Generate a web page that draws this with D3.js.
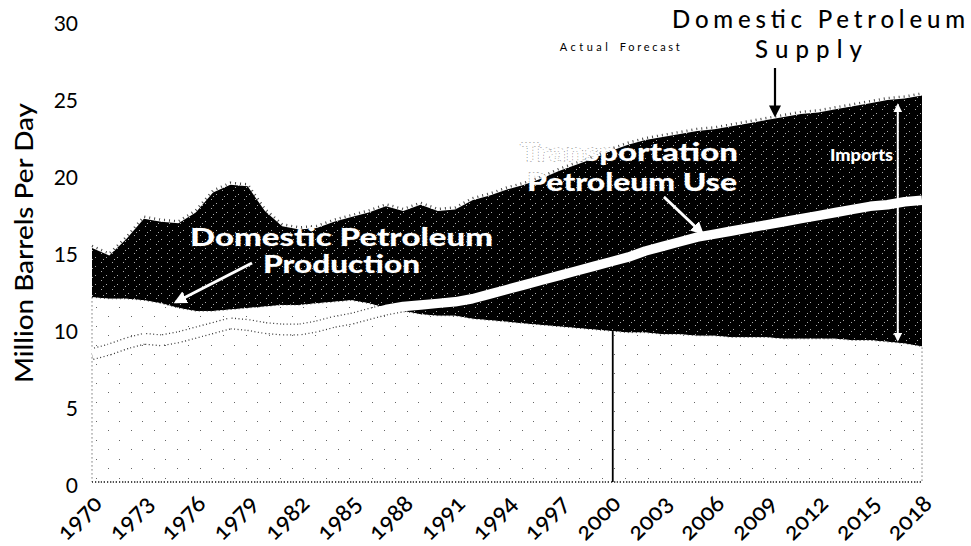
<!DOCTYPE html>
<html><head><meta charset="utf-8">
<script src="https://cdn.jsdelivr.net/npm/d3@7"></script>
<style>
html,body{margin:0;padding:0;background:#fff;}
svg{display:block;}
text{font-family:Lato,"Open Sans",sans-serif;}
</style></head><body>
<svg id="chart" width="971" height="546"></svg>
<script>
// ---- data (million barrels per day) ----
const years = [1970,1971,1972,1973,1974,1975,1976,1977,1978,1979,
  1980,1981,1982,1983,1984,1985,1986,1987,1988,1989,
  1990,1991,1992,1993,1994,1995,1996,1997,1998,1999,
  2000,2001,2002,2003,2004,2005,2006,2007,2008,2009,
  2010,2011,2012,2013,2014,2015,2016,2017,2018];
const totalSupply = [15.2,14.7,15.8,17.1,16.9,16.8,17.5,18.8,19.3,19.2,
  17.6,16.6,16.4,16.5,16.9,17.2,17.5,17.9,17.6,18.0,
  17.6,17.7,18.3,18.6,19.0,19.3,19.7,20.2,20.6,21.0,
  21.5,21.9,22.2,22.4,22.6,22.8,22.9,23.1,23.3,23.5,
  23.7,23.9,24.0,24.2,24.4,24.6,24.8,24.9,25.1];
const domesticProduction = [12.0,11.9,11.9,11.8,11.6,11.3,11.1,11.1,11.2,11.3,
  11.4,11.5,11.5,11.6,11.7,11.8,11.6,11.3,11.1,10.9,
  10.8,10.8,10.6,10.5,10.4,10.3,10.2,10.1,10.0,9.9,
  9.8,9.7,9.7,9.6,9.6,9.5,9.5,9.4,9.4,9.4,
  9.3,9.3,9.3,9.3,9.2,9.2,9.1,9.0,8.8];
const transportationUse = [8.3,8.6,9.0,9.3,9.2,9.4,9.7,10.0,10.3,10.2,
  10.0,9.9,9.9,10.1,10.4,10.6,10.9,11.2,11.4,11.5,
  11.6,11.7,11.9,12.2,12.5,12.8,13.1,13.4,13.7,14.0,
  14.3,14.6,15.0,15.3,15.6,15.9,16.1,16.3,16.5,16.7,
  16.9,17.1,17.3,17.5,17.7,17.9,18.0,18.2,18.3];
const yTickValues = [0,5,10,15,20,25,30];
const xTickYears = [1970,1973,1976,1979,1982,1985,1988,1991,1994,1997,2000,2003,2006,2009,2012,2015,2018];
const forecastYear = 2000;
const importsArrowYear = 2016.6;

// ---- chart ----
const svg = d3.select('#chart');
const x = d3.scaleLinear().domain([1970, 2018]).range([92, 922]);
const y = d3.scaleLinear().domain([0, 30]).range([482, 20]);
const rows = years.map((yr, i) => ({yr, total: totalSupply[i], prod: domesticProduction[i], trans: transportationUse[i]}));

const defs = svg.append('defs');
// stipple patterns imitating the scanned halftone
const dark = defs.append('pattern').attr('id','darkDots').attr('patternUnits','userSpaceOnUse').attr('width',11).attr('height',9);
dark.append('rect').attr('width',11).attr('height',9).attr('fill','#000');
[[2,1],[7,5],[4,7]].forEach(p => dark.append('rect').attr('x',p[0]).attr('y',p[1]).attr('width',1).attr('height',1).attr('fill','#aaa'));
const light = defs.append('pattern').attr('id','lightDots').attr('patternUnits','userSpaceOnUse').attr('width',23).attr('height',19);
light.append('rect').attr('width',23).attr('height',19).attr('fill','#fff');
[[4,3],[16,12]].forEach(p => light.append('rect').attr('x',p[0]).attr('y',p[1]).attr('width',1).attr('height',1).attr('fill','#666'));

function marker(id, color, size) {
  defs.append('marker').attr('id', id).attr('viewBox','0 0 10 10').attr('refX',8).attr('refY',5)
    .attr('markerUnits','userSpaceOnUse').attr('markerWidth',size).attr('markerHeight',size).attr('orient','auto-start-reverse')
    .append('path').attr('d','M0,0 L10,5 L0,10 Z').attr('fill', color);
}
marker('arrowWhite','#fff',13);
marker('arrowBlack','#000',12);
marker('arrowWhiteSmall','#fff',9);

const lightArea = d3.area().x(d => x(d.yr)).y0(y(0)).y1(d => y(d.prod));
const darkArea = d3.area().x(d => x(d.yr)).y0(d => y(d.prod)).y1(d => y(d.total));

defs.append('clipPath').attr('id','lightClip').append('path').attr('d', lightArea(rows));

// imports (dark) area
svg.append('path').attr('d', darkArea(rows)).attr('fill','url(#darkDots)');
// speckled fringe along the top of supply
svg.append('path').attr('d', d3.line().x(d => x(d.yr)).y(d => y(d.total) - 2)(rows))
  .attr('fill','none').attr('stroke','#444').attr('stroke-width',2.5).attr('stroke-dasharray','1 4');
// domestic production (light) area
svg.append('path').attr('d', lightArea(rows)).attr('fill','url(#lightDots)')
  .attr('stroke','#333').attr('stroke-width',1).attr('stroke-dasharray','1 3');

// transportation petroleum use line
const transLine = d3.line().x(d => x(d.yr)).y(d => y(d.trans));
svg.append('path').attr('d', transLine(rows)).attr('clip-path','url(#lightClip)')
  .attr('fill','none').attr('stroke','#333').attr('stroke-width',12).attr('stroke-dasharray','1 2.5');
svg.append('path').attr('d', transLine(rows))
  .attr('fill','none').attr('stroke','#fff').attr('stroke-width',9.5).attr('stroke-linejoin','round');

// baseline (dotted)
svg.append('line').attr('x1', x(1970)).attr('x2', x(2018)).attr('y1', y(0)).attr('y2', y(0))
  .attr('stroke','#222').attr('stroke-width',1.5).attr('stroke-dasharray','1 2');

// actual / forecast divider
const fi = years.indexOf(forecastYear);
svg.append('line').attr('x1', x(forecastYear)+2).attr('x2', x(forecastYear)+2)
  .attr('y1', y(domesticProduction[fi])).attr('y2', y(0))
  .attr('stroke','#000').attr('stroke-width',1.8);
svg.append('text').attr('x', x(forecastYear) - 3).attr('y', 51).attr('text-anchor','end')
  .attr('font-size',11).attr('textLength',48).attr('fill','#000').text('Actual');
svg.append('text').attr('x', x(forecastYear) + 9).attr('y', 51).attr('text-anchor','start')
  .attr('font-size',11).attr('textLength',60).attr('fill','#000').text('Forecast');

// imports double arrow
const ii = years.indexOf(2016);
svg.append('line').attr('x1', x(importsArrowYear)).attr('x2', x(importsArrowYear))
  .attr('y1', y(totalSupply[ii]) + 5).attr('y2', y(domesticProduction[ii]) - 2)
  .attr('stroke','#fff').attr('stroke-width',2)
  .attr('marker-start','url(#arrowWhiteSmall)').attr('marker-end','url(#arrowWhiteSmall)');
svg.append('text').attr('x', 830).attr('y', 161).attr('font-size',16).attr('font-weight',900)
  .attr('textLength',63).attr('lengthAdjust','spacingAndGlyphs').attr('fill','#fff').text('Imports');

// ---- axes ----
const yAxis = d3.axisLeft(y).tickValues(yTickValues).tickSize(0).tickPadding(0);
const gy = svg.append('g').attr('transform','translate(78,0)').call(yAxis);
gy.select('.domain').remove();
gy.selectAll('text').attr('font-size',21).attr('font-family','Lato, sans-serif').attr('fill','#000').attr('dy','0.5em');

const xAxis = d3.axisBottom(x).tickValues(xTickYears).tickSize(0).tickFormat(d3.format('d'));
const gx = svg.append('g').call(xAxis);
gx.select('.domain').remove();
gx.selectAll('text').attr('font-size',24).attr('font-weight',500).attr('font-family','Lato, sans-serif').attr('fill','#000')
  .attr('y',0).attr('dy',0).attr('text-anchor','end')
  .style('font-variant-numeric','oldstyle-nums')
  .attr('transform','translate(11,505) rotate(-45)');

// axis title
svg.append('text').attr('transform','translate(33,243) rotate(-90)').attr('text-anchor','middle')
  .attr('font-size',25).attr('font-weight',500).attr('textLength',280).attr('lengthAdjust','spacingAndGlyphs')
  .attr('fill','#000').text('Million Barrels Per Day');

// ---- annotations ----
svg.append('text').attr('x',672).attr('y',28).attr('font-size',24).attr('font-weight',500)
  .attr('textLength',293).attr('fill','#000').text('Domestic Petroleum');
svg.append('text').attr('x',755).attr('y',58).attr('font-size',24).attr('font-weight',500)
  .attr('textLength',107).attr('fill','#000').text('Supply');
svg.append('line').attr('x1',775).attr('y1',68).attr('x2',775).attr('y2',115)
  .attr('stroke','#000').attr('stroke-width',2.2).attr('marker-end','url(#arrowBlack)');

function whiteLabel(tx, ty, len, str) {
  svg.append('text').attr('x',tx).attr('y',ty).attr('font-size',25).attr('font-weight',900)
    .attr('textLength',len).attr('lengthAdjust','spacingAndGlyphs')
    .attr('fill','#fff').attr('stroke','#666').attr('stroke-width',0.9).attr('stroke-dasharray','1 2')
    .attr('paint-order','stroke').text(str);
}
whiteLabel(520, 161, 218, 'Transportation');
whiteLabel(527, 191, 210, 'Petroleum Use');
svg.append('line').attr('x1',664).attr('y1',197).attr('x2',702).attr('y2',233)
  .attr('stroke','#fff').attr('stroke-width',3).attr('marker-end','url(#arrowWhite)');

whiteLabel(190, 246, 303, 'Domestic Petroleum');
whiteLabel(263, 273, 157, 'Production');
svg.append('line').attr('x1',252).attr('y1',263).attr('x2',176).attr('y2',302)
  .attr('stroke','#fff').attr('stroke-width',3).attr('marker-end','url(#arrowWhite)');
</script>
</body></html>
